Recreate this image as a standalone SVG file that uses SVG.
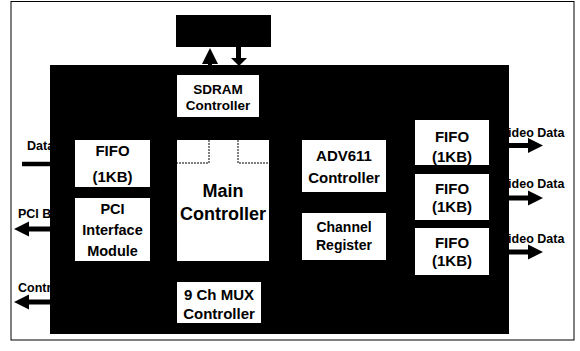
<svg xmlns="http://www.w3.org/2000/svg" width="580" height="351" viewBox="0 0 580 351">
<style>
text{font-family:"Liberation Sans",Arial,sans-serif;font-weight:bold;fill:#000;text-anchor:middle}
.lbl{font-size:12.5px;text-anchor:start}
.box{fill:#fff;stroke:none}
.blk{fill:#000}
.dash{fill:none;stroke:#000;stroke-width:1;stroke-dasharray:2 1}
</style>
<defs>
<marker id="ah" viewBox="0 0 10 10" refX="0" refY="5" markerWidth="3" markerHeight="3.2" orient="auto" markerUnits="strokeWidth">
<path d="M0,0 L10,5 L0,10 Z" fill="#000"/>
</marker>
</defs>
<rect x="0" y="0" width="580" height="351" fill="#fff"/>
<rect id="frame" x="11" y="1.5" width="563" height="338.5" fill="none" stroke="#000" stroke-width="1"/>

<g id="ext-labels">
<text class="lbl" x="27" y="149.5">Data</text>
<text class="lbl" x="18" y="217.5">PCI Bus</text>
<text class="lbl" x="18" y="291.5">Control</text>
<text class="lbl" x="500" y="136.5">Video Data</text>
<text class="lbl" x="500" y="187.5">Video Data</text>
<text class="lbl" x="500" y="242.5">Video Data</text>
</g>

<g id="connectors">
<line x1="22" y1="164" x2="52" y2="164" stroke="#000" stroke-width="4.5"/>
<line x1="52" y1="229" x2="29" y2="229" stroke="#000" stroke-width="5" marker-end="url(#ah)"/>
<line x1="52" y1="302" x2="29" y2="302" stroke="#000" stroke-width="5" marker-end="url(#ah)"/>
<line x1="507" y1="145.5" x2="528" y2="145.5" stroke="#000" stroke-width="5" marker-end="url(#ah)"/>
<line x1="507" y1="198" x2="528" y2="198" stroke="#000" stroke-width="5" marker-end="url(#ah)"/>
<line x1="507" y1="252" x2="528" y2="252" stroke="#000" stroke-width="5" marker-end="url(#ah)"/>
<polygon points="210,48 202,64 218,64" fill="#000"/>
<rect x="208" y="63" width="4" height="3" fill="#000"/>
<rect x="236" y="46" width="5" height="13" fill="#000"/>
<polygon points="231,58 247,58 239,66" fill="#000"/>
</g>

<g id="memory"><rect class="blk" x="176" y="15" width="95" height="32"/></g>
<g id="chip"><rect class="blk" x="50" y="65" width="459" height="269"/></g>

<g id="sdram">
<rect class="box" x="177" y="75" width="82" height="42"/>
<text x="218" y="94" font-size="13.5">SDRAM</text>
<text x="218" y="110" font-size="13.5">Controller</text>
</g>

<g id="fifo-in">
<rect class="box" x="75" y="140" width="75" height="47"/>
<text x="112.5" y="155.5" font-size="15">FIFO</text>
<text x="112.5" y="182" font-size="15">(1KB)</text>
</g>

<g id="pci">
<rect class="box" x="75" y="198" width="75" height="63"/>
<text x="112.5" y="214" font-size="14.5">PCI</text>
<text x="112.5" y="235" font-size="14.5">Interface</text>
<text x="112.5" y="255.5" font-size="14.5">Module</text>
</g>

<g id="main">
<rect class="box" x="177" y="140" width="92" height="121"/>
<path class="dash" d="M209,140 V163 H177 M238,140 V163 H268"/>
<text x="223" y="196.5" font-size="18">Main</text>
<text x="223" y="219.5" font-size="18">Controller</text>
</g>

<g id="mux">
<rect class="box" x="177" y="282" width="84" height="41"/>
<text x="219" y="299.5" font-size="15">9 Ch MUX</text>
<text x="219" y="318.5" font-size="15">Controller</text>
</g>

<g id="adv611">
<rect class="box" x="302" y="140" width="84" height="52"/>
<text x="344" y="160.5" font-size="15">ADV611</text>
<text x="344" y="182.5" font-size="15">Controller</text>
</g>

<g id="channel">
<rect class="box" x="302" y="213" width="84" height="47"/>
<text x="344" y="232" font-size="14">Channel</text>
<text x="344" y="250" font-size="14">Register</text>
</g>

<g id="fifo-out1">
<rect class="box" x="415" y="120" width="74" height="45"/>
<text x="452" y="141.5" font-size="15">FIFO</text>
<text x="452" y="162" font-size="15">(1KB)</text>
</g>
<g id="fifo-out2">
<rect class="box" x="415" y="174" width="74" height="46"/>
<text x="452" y="193.5" font-size="15">FIFO</text>
<text x="452" y="211.5" font-size="15">(1KB)</text>
</g>
<g id="fifo-out3">
<rect class="box" x="415" y="228" width="74" height="47"/>
<text x="452" y="247.5" font-size="15">FIFO</text>
<text x="452" y="265.5" font-size="15">(1KB)</text>
</g>
</svg>
